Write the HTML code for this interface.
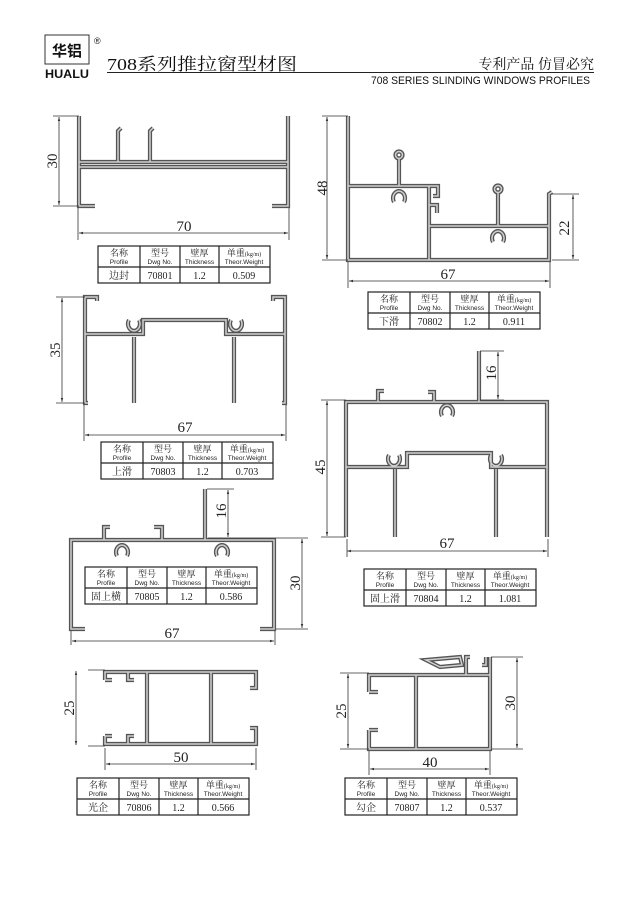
<!DOCTYPE html>
<html><head><meta charset="utf-8"><style>
html,body{margin:0;padding:0;background:#fff;}
svg{display:block}
.o{stroke:#555;stroke-width:4.2;fill:none;stroke-linejoin:miter}
.i{stroke:#d0d0d0;stroke-width:1.5;fill:none}
.d{stroke:#333;stroke-width:0.8;fill:none}
.n{font-family:"Liberation Serif",serif;font-size:15px;fill:#222;text-anchor:middle}
.tb rect,.tb line{stroke:#222;stroke-width:1.2;fill:#fff}
.ch{font-family:"Liberation Serif","Noto Serif CJK SC",serif;font-size:9px;fill:#222;text-anchor:middle}
.en{font-family:"Liberation Sans",sans-serif;font-size:6.5px;fill:#222;text-anchor:middle}
.rv{font-family:"Liberation Serif","Noto Serif CJK SC",serif;font-size:10px;fill:#222;text-anchor:middle}
</style></head><body>
<svg width="639" height="904" viewBox="0 0 639 904" xmlns="http://www.w3.org/2000/svg">
<defs>
<marker id="a" viewBox="0 0 10 10" refX="10" refY="5" markerWidth="7" markerHeight="5" orient="auto-start-reverse"><path d="M0 2 L10 5 L0 8 z" fill="#333"/></marker>
<g id="tbh" class="tb">
<rect x="0" y="0" width="172" height="37"/>
<line x1="42" y1="0" x2="42" y2="37"/><line x1="82" y1="0" x2="82" y2="37"/><line x1="121" y1="0" x2="121" y2="37"/><line x1="0" y1="21" x2="172" y2="21"/>
<text class="ch" x="21" y="10">名称</text><text class="en" x="21" y="18">Profile</text>
<text class="ch" x="62" y="10">型号</text><text class="en" x="62" y="18">Dwg No.</text>
<text class="ch" x="101.5" y="10">壁厚</text><text class="en" x="101.5" y="18">Thickness</text>
<text class="ch" x="146" y="10">单重<tspan font-size="6">(kg/m)</tspan></text><text class="en" x="146" y="18">Theor.Weight</text>
</g>
<g id="p1">
<path d="M79 116V206H95M288 116V206H272M79 162H288M79 167H288M118 162V131l3-3M150 162V131l3-3"/>
</g>
<g id="p2">
<path d="M348 116V260H549V194l3-2M348 186H438V196H433M429 205H437V213M429 186V260M429 226H549M399 186V159M498 226V193M394 202A6 7 0 1 1 404 202M493 242A6 7 0 1 1 503 242"/>
<circle cx="399" cy="155" r="3.5"/><circle cx="498" cy="189" r="3.5"/>
</g>
<g id="p3">
<path d="M97 301V297H85V403h3M273 301V297H285V403h-3M85 334H143V320H226V334H285M129 320A6 7 0 1 0 139 320M231 320A6 7 0 1 0 241 320M134 337V403M234 337V403"/>
</g>
<g id="p4">
<path d="M346 537V402H547V537M479 402V351M378 402V391h6M434 402V392H428M442 416A6 7 0 1 1 452 416M346 467H407V453H491V467H547M389 455A6 7 0 1 0 399 455M491 455A6 7 0 1 0 501 455M395 469V537M496 469V537"/>
</g>
<g id="p5">
<path d="M85 629H71V540H274V629H260M205 540V489M104 540V527h6M154 527h8V540M117 556A6 7 0 1 1 127 556M217 556A6 7 0 1 1 227 556"/>
</g>
<g id="p6">
<path d="M105 680V672H256V688H250M105 736V744H256V728H250M147 672V744M211 672V744M105 680H112M128 672V680H134M105 736H112M128 744V736H134"/>
</g>
<g id="p7">
<path d="M369 692V675H490M490 657V749H369V730M369 692H378M369 730H378M416 675V749M466 675V657H470M486 657V665H482"/>
<path d="M426 660L460 657L462 665L440 667Z"/>
</g>
</defs>

<rect x="45" y="35" width="44" height="29" fill="#fff" stroke="#333" stroke-width="1"/>
<text x="67" y="56" font-family="Noto Sans CJK SC,sans-serif" font-weight="bold" font-size="15" text-anchor="middle" fill="#111">华铝</text>
<text x="94" y="44" font-family="Liberation Sans,sans-serif" font-size="9" fill="#111">®</text>
<text x="67" y="78" font-family="Liberation Sans,sans-serif" font-weight="bold" font-size="12" text-anchor="middle" fill="#111" textLength="44" lengthAdjust="spacingAndGlyphs">HUALU</text>
<text x="107" y="70" font-family="Liberation Serif,Noto Serif CJK SC,serif" font-size="17" fill="#111" textLength="190" lengthAdjust="spacingAndGlyphs">708系列推拉窗型材图</text>
<line x1="107" y1="72.5" x2="594" y2="72.5" stroke="#222" stroke-width="1"/>
<text x="594" y="69" font-family="Noto Serif CJK SC,serif" font-size="14" text-anchor="end" fill="#111">专利产品 仿冒必究</text>
<text x="590" y="84" font-family="Liberation Sans,sans-serif" font-size="11" text-anchor="end" fill="#111" textLength="219" lengthAdjust="spacingAndGlyphs">708 SERIES SLINDING WINDOWS PROFILES</text>

<g class="o"><use href="#p1"/><use href="#p2"/><use href="#p3"/><use href="#p4"/><use href="#p5"/><use href="#p6"/><use href="#p7"/></g>
<g class="i"><use href="#p1"/><use href="#p2"/><use href="#p3"/><use href="#p4"/><use href="#p5"/><use href="#p6"/><use href="#p7"/></g>

<g class="d">
<path d="M53 116H79M53 206H79M78 208V240M289 208V240M348 262V288M550 262V288M322 116H348M322 260H348M552 194H579M552 260H579M56 297H85M56 403H85M84 405V441M286 405V441M321 400H346M321 537H346M480 351H504M480 400H504M347 539V557M548 539V557M207 489H234M208 538H308M276 629H308M71 631V645M275 631V645M88 670H105M88 746H105M105 748V770M256 748V770M340 673H369M340 749H369M491 657H523M491 749H523M369 751V775M490 751V775"/>
<line x1="59" y1="117" x2="59" y2="205" marker-start="url(#a)" marker-end="url(#a)"/>
<line x1="79" y1="233" x2="288" y2="233" marker-start="url(#a)" marker-end="url(#a)"/>
<line x1="327" y1="117" x2="327" y2="259" marker-start="url(#a)" marker-end="url(#a)"/>
<line x1="349" y1="281" x2="549" y2="281" marker-start="url(#a)" marker-end="url(#a)"/>
<line x1="573" y1="195" x2="573" y2="259" marker-start="url(#a)" marker-end="url(#a)"/>
<line x1="62" y1="298" x2="62" y2="402" marker-start="url(#a)" marker-end="url(#a)"/>
<line x1="85" y1="435" x2="285" y2="435" marker-start="url(#a)" marker-end="url(#a)"/>
<line x1="327" y1="401" x2="327" y2="536" marker-start="url(#a)" marker-end="url(#a)"/>
<line x1="498" y1="352" x2="498" y2="399" marker-start="url(#a)" marker-end="url(#a)"/>
<line x1="347" y1="551" x2="547" y2="551" marker-start="url(#a)" marker-end="url(#a)"/>
<line x1="228" y1="490" x2="228" y2="537" marker-start="url(#a)" marker-end="url(#a)"/>
<line x1="302" y1="539" x2="302" y2="628" marker-start="url(#a)" marker-end="url(#a)"/>
<line x1="72" y1="641" x2="274" y2="641" marker-start="url(#a)" marker-end="url(#a)"/>
<line x1="76" y1="671" x2="76" y2="745" marker-start="url(#a)" marker-end="url(#a)"/>
<line x1="106" y1="764" x2="255" y2="764" marker-start="url(#a)" marker-end="url(#a)"/>
<line x1="348" y1="674" x2="348" y2="748" marker-start="url(#a)" marker-end="url(#a)"/>
<line x1="517" y1="658" x2="517" y2="748" marker-start="url(#a)" marker-end="url(#a)"/>
<line x1="370" y1="769" x2="489" y2="769" marker-start="url(#a)" marker-end="url(#a)"/>
</g>
<g class="n">
<text transform="translate(57,161) rotate(-90)">30</text>
<text x="184" y="231">70</text>
<text transform="translate(327,188) rotate(-90)">48</text>
<text x="448" y="279">67</text>
<text transform="translate(569,228) rotate(-90)">22</text>
<text transform="translate(60,350) rotate(-90)">35</text>
<text x="185" y="432">67</text>
<text transform="translate(325,467) rotate(-90)">45</text>
<text transform="translate(496,373) rotate(-90)">16</text>
<text x="447" y="548">67</text>
<text transform="translate(226,511) rotate(-90)">16</text>
<text transform="translate(300,583) rotate(-90)">30</text>
<text x="172" y="638">67</text>
<text transform="translate(74,708) rotate(-90)">25</text>
<text x="181" y="762">50</text>
<text transform="translate(346,711) rotate(-90)">25</text>
<text transform="translate(515,703) rotate(-90)">30</text>
<text x="430" y="767">40</text>
</g>

<g transform="translate(98,246)"><use href="#tbh"/><text class="rv" y="33"><tspan x="21">边封</tspan><tspan x="62">70801</tspan><tspan x="101.5">1.2</tspan><tspan x="146">0.509</tspan></text></g>
<g transform="translate(368,292)"><use href="#tbh"/><text class="rv" y="33"><tspan x="21">下滑</tspan><tspan x="62">70802</tspan><tspan x="101.5">1.2</tspan><tspan x="146">0.911</tspan></text></g>
<g transform="translate(101,442)"><use href="#tbh"/><text class="rv" y="33"><tspan x="21">上滑</tspan><tspan x="62">70803</tspan><tspan x="101.5">1.2</tspan><tspan x="146">0.703</tspan></text></g>
<g transform="translate(364,569)"><use href="#tbh"/><text class="rv" y="33"><tspan x="21">固上滑</tspan><tspan x="62">70804</tspan><tspan x="101.5">1.2</tspan><tspan x="146">1.081</tspan></text></g>
<g transform="translate(85,567)"><use href="#tbh"/><text class="rv" y="33"><tspan x="21">固上横</tspan><tspan x="62">70805</tspan><tspan x="101.5">1.2</tspan><tspan x="146">0.586</tspan></text></g>
<g transform="translate(77,778)"><use href="#tbh"/><text class="rv" y="33"><tspan x="21">光企</tspan><tspan x="62">70806</tspan><tspan x="101.5">1.2</tspan><tspan x="146">0.566</tspan></text></g>
<g transform="translate(345,778)"><use href="#tbh"/><text class="rv" y="33"><tspan x="21">勾企</tspan><tspan x="62">70807</tspan><tspan x="101.5">1.2</tspan><tspan x="146">0.537</tspan></text></g>
</svg>
</body></html>
